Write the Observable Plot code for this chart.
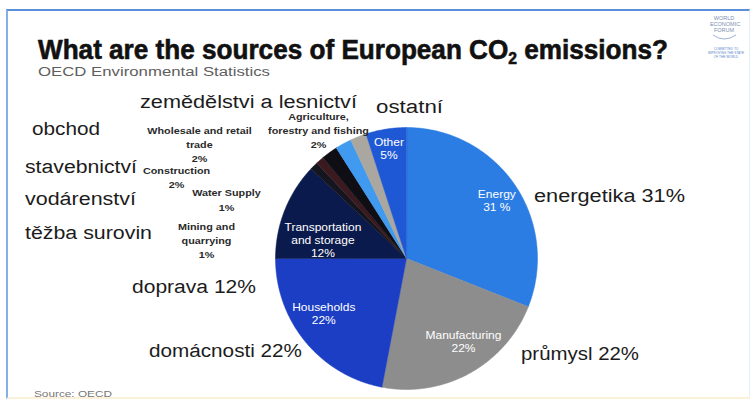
<!DOCTYPE html>
<html><head><meta charset="utf-8">
<script src="https://cdn.jsdelivr.net/npm/d3@7"></script>
<script src="https://cdn.jsdelivr.net/npm/@observablehq/plot@0.6"></script>
<style>
html,body{margin:0;padding:0;background:#fff;}
#wrap{position:relative;width:755px;height:405px;overflow:hidden;font-family:"Liberation Sans",Arial,Helvetica,sans-serif;}
#frame{position:absolute;left:6px;top:9px;width:741px;height:386px;border-top:2px solid #5b8fdc;border-left:2px solid #86aee8;border-right:1px solid #e6eefa;border-bottom:2px solid #fbf0d8;}
#chart{position:absolute;left:0;top:0;}
.lbl{position:absolute;white-space:nowrap;line-height:1;transform-origin:0 0;}
.sub{position:relative;top:0.3em;font-size:0.6em;}
</style></head><body>
<div id="wrap"><div id="frame"></div><div id="chart"></div></div>
<script>
// ---- data ----
const sectors = ["Energy","Manufacturing","Households","Transportation\nand storage","Mining and\nquarrying","Water Supply","Construction","Wholesale and retail\ntrade","Agriculture,\nforestry and fishing","Other"];
const shares = [31,22,22,12,1,1,2,2,2,5];
const shareLabels = ["31 %","22%","22%","12%","1%","1%","2%","2%","2%","5%"];
const czechLabels = ["energetika 31%","průmysl 22%","domácnosti 22%","doprava 12%","těžba surovin","vodárenství","stavebnictví","obchod","zemědělstvi a lesnictví","ostatní"];
const titleHtml = 'What are the sources of European CO<span class="sub">2</span> emissions?';
const subtitleText = "OECD Environmental Statistics";
const sourceText = "Source: OECD";

// ---- styles / layout ----
const palette = ["#2b7de3","#8d8d8d","#1b3ec4","#0b1a4c","#15151f","#3a1a1e","#0e0e14","#3f9af0","#aaa6a0","#1e58d4"];
const pieLayout = {cx: 406, cy: 258, r: 131, labelR: 0.76};
const innerNudge = [[8,-2],[9,-4],[-6,-9],[9,18],[-2,-12]];
const outerLayout = [[206,239],[226,198.5],[176,176],[199,143],[318,129]];
const czechLayout = [[534,202,151],[521,360,118],[149,357,153],[132,293,124],[25,239,127],[25,205,111],[25,173,112],[32,135,68],[140,108,217],[376,113,67]];

const rows = sectors.map((name, i) => ({name, share: shares[i], pct: shareLabels[i], color: palette[i]}));
const arcs = d3.pie().sort(null).value(d => d.share)(rows);
const {cx, cy, r} = pieLayout;
const pt = (a, rr) => ({x: cx + rr * Math.sin(a), y: cy - rr * Math.cos(a)});

const poly = arcs.flatMap(a => {
  const n = Math.max(2, Math.ceil((a.endAngle - a.startAngle) / (Math.PI / 360)));
  const out = [{...pt(0, 0), name: a.data.name, color: a.data.color}];
  for (let k = 0; k <= n; k++) {
    const ang = a.startAngle + (a.endAngle - a.startAngle) * k / n;
    out.push({...pt(ang, r), name: a.data.name, color: a.data.color});
  }
  return out;
});
const inner = arcs.filter(a => a.data.share >= 5).map((a, i) => {
  const p = pt((a.startAngle + a.endAngle) / 2, r * pieLayout.labelR);
  return {x: p.x + innerNudge[i][0], y: p.y + innerNudge[i][1], text: a.data.name + "\n" + a.data.pct};
});
const outer = arcs.filter(a => a.data.share < 5).map((a, i) => ({x: outerLayout[i][0], y: outerLayout[i][1], text: a.data.name + "\n" + a.data.pct}));

const svg = Plot.plot({
  width: 755, height: 405, margin: 0,
  x: {domain: [0, 755], range: [0, 755], axis: null},
  y: {domain: [0, 405], range: [0, 405], axis: null},
  color: {type: "identity"},
  style: {background: "transparent", fontFamily: '"Liberation Sans", Arial, sans-serif'},
  marks: [
    Plot.line(poly, {x: "x", y: "y", z: "name", fill: "color", stroke: "color", strokeWidth: 0.5, curve: "linear-closed"}),
    Plot.text(inner, {x: "x", y: "y", text: "text", fill: "white", fontSize: 10, lineHeight: 1.3}),
    Plot.text(outer, {x: "x", y: "y", text: "text", fill: "#2a2a2a", fontSize: 9, fontWeight: "bold", lineHeight: 1.6})
  ]
});
d3.select(svg).selectAll('g[aria-label="text"] text').each(function() {
  const t = this.getAttribute("transform");
  if (t) this.setAttribute("transform", t + " scale(1.2,1)");
  else {
    const x = this.getAttribute("x") || 0, y = this.getAttribute("y") || 0;
    this.removeAttribute("x"); this.removeAttribute("y");
    this.setAttribute("transform", `translate(${x},${y}) scale(1.2,1)`);
  }
});
document.getElementById("chart").appendChild(svg);

// ---- overlay text ----
const wrap = document.getElementById("wrap");
function addLabel(html, x, baseline, size, width, css) {
  const s = document.createElement("div");
  s.className = "lbl";
  s.innerHTML = html;
  s.style.fontSize = size + "px";
  s.style.left = x + "px";
  s.style.top = (baseline - 0.8465 * size) + "px";
  Object.assign(s.style, css || {});
  wrap.appendChild(s);
  const w = s.getBoundingClientRect().width;
  if (width && w > 0) s.style.transform = `scaleX(${width / w})`;
}
addLabel(titleHtml, 38, 60, 27, 630, {fontWeight: "bold", color: "#111", webkitTextStroke: "0.6px #111"});
addLabel(subtitleText, 38, 77, 12.5, 232, {color: "#5e5e5e"});
addLabel(sourceText, 34, 397, 9.5, 78, {color: "#777"});
czechLabels.forEach((t, i) => addLabel(t, czechLayout[i][0], czechLayout[i][1], 18, czechLayout[i][2], {color: "#1c1c1c"}));

// logo
const logo = document.createElement("div");
logo.style.cssText = "position:absolute;left:700px;top:12px;";
logo.innerHTML = `<svg width="54" height="52" font-family="Liberation Sans, Arial" text-anchor="middle">
<text x="24" y="8" font-size="5.5" fill="#7c8fb2">WORLD</text>
<text x="25" y="14" font-size="5.5" fill="#7c8fb2">ECONOMIC</text>
<text x="24" y="20" font-size="5.5" fill="#7c8fb2">FORUM</text>
<path d="M13 23 Q24 31 36 23" fill="none" stroke="#9fb2d6" stroke-width="1"/>
<text x="26" y="38" font-size="3.2" fill="#5b86c8">COMMITTED TO</text>
<text x="26" y="42" font-size="3.2" fill="#5b86c8">IMPROVING THE STATE</text>
<text x="26" y="46" font-size="3.2" fill="#5b86c8">OF THE WORLD</text>
</svg>`;
wrap.appendChild(logo);
</script>
</body></html>
